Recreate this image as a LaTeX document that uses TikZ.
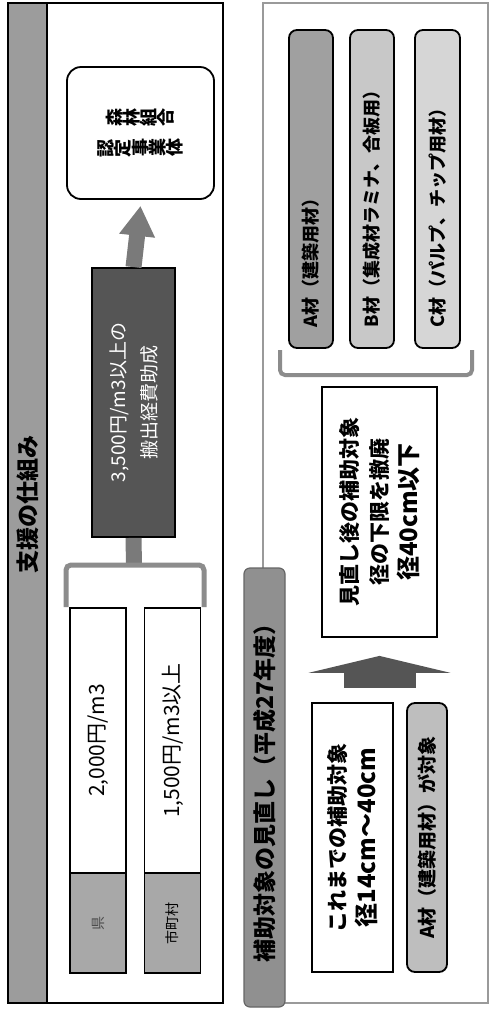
\documentclass[tikz,border=0pt]{standalone}
\usepackage{fontspec}
\setmainfont{Noto Sans CJK JP}
\usepackage{graphicx}
\usetikzlibrary{arrows.meta,calc}
\definecolor{bargray}{HTML}{9C9C9C}
\definecolor{darkbox}{HTML}{555555}
\definecolor{arrowgray}{HTML}{7A7A7A}
\definecolor{brgray}{HTML}{8C8C8C}
\definecolor{labgray}{HTML}{A8A8A8}
\definecolor{tabgray}{HTML}{909090}
\definecolor{agray}{HTML}{A0A0A0}
\definecolor{bgray}{HTML}{C8C8C8}
\definecolor{cgray}{HTML}{D6D6D6}
\definecolor{targray}{HTML}{BEBEBE}
\definecolor{panelgray}{HTML}{9A9A9A}
\newcommand\rchar[1]{\rotatebox[origin=c]{90}{#1}}
\begin{document}
\begin{tikzpicture}[x=1pt,y=-1pt,
  vbox/.style={rotate=90, draw=black, line width=1.8pt, inner sep=0pt, align=center},
  matbar/.style={vbox, rounded corners=8pt, minimum width=318pt, minimum height=44pt,
    text width=276pt, align=left, inner xsep=21pt, font=\fontsize{18}{20}\selectfont\bfseries},
  labbox/.style={vbox, fill=labgray, minimum width=100pt, minimum height=56pt},
  valbox/.style={vbox, minimum width=265pt, minimum height=56pt, font=\fontsize{21}{24}\selectfont}]
\fill[white] (0,0) rectangle (498,1010);
\useasboundingbox (0,0) rectangle (498,1010);

% ---- left panel
\fill[bargray] (8,3) rectangle (47,1003);
\draw[line width=2pt] (8,3) rectangle (223,1003);
\draw[line width=1.6pt] (47,3) -- (47,1003);
\node[rotate=90, font=\fontsize{23}{26}\selectfont\bfseries] (title1) at (28,504) {支援の仕組み};

\node[draw, line width=1.8pt, rounded corners=14pt, minimum width=147pt, minimum height=132pt,
  inner sep=0pt, align=center, font=\fontsize{18}{30}\selectfont\bfseries] (nintei) at (140.5,133)
  {\rchar{森}\rchar{林}\rchar{組}\rchar{合}\\\rchar{認}\rchar{定}\rchar{事}\rchar{業}\rchar{体}};

\node[vbox, fill=darkbox, text=white, minimum width=269pt, minimum height=83pt,
  font=\fontsize{19}{31}\selectfont] (josei) at (133.5,402.5) {3,500円/m3以上の\\搬出経費助成};

\coordinate (brtop) at (134,565);
\draw[line width=16pt, arrowgray] (brtop) -- (josei.west);
\draw[line width=16pt, arrowgray, -{Triangle[width=34pt,length=30pt]}] (josei.east) -- ($(nintei.south)+(0,6)$);
\draw[line width=5pt, brgray, rounded corners=5pt] (66,607) -- (66,565) -- (204,565) -- (204,607);

\node[valbox] (ken) at (98,740.5) {2,000円/m3};
\node[labbox, font=\fontsize{14}{16}\selectfont, text=black!70] (kenlab) at (98,923) {県};
\node[valbox] (shi) at (172.5,740.5) {1,500円/m3以上};
\node[labbox, font=\fontsize{14}{16}\selectfont] (shilab) at (172.5,923) {市町村};

% ---- right panel
\draw[line width=1.3pt, panelgray] (263,3) rectangle (488,1003);
\node[rotate=90, draw=black!60, line width=1.2pt, fill=tabgray, rounded corners=6pt,
  minimum width=439pt, minimum height=41pt, inner sep=0pt,
  font=\fontsize{23}{26}\selectfont\bfseries] (tab2) at (264.5,787.5) {補助対象の見直し（平成27年度）};

\node[matbar, fill=agray] (amat) at (311,189) {A材（建築用材）};
\node[matbar, fill=bgray] (bmat) at (372,189) {B材（集成材ラミナ、合板用）};
\node[matbar, fill=cgray, minimum height=45pt] (cmat) at (437.5,189) {C材（パルプ、チップ用材）};
\draw[line width=4pt, brgray, rounded corners=5pt] (280,350) -- (280,375) -- (472,375) -- (472,350);

\node[vbox, fill=white, minimum width=250pt, minimum height=115pt,
  font=\fontsize{21}{30}\selectfont\bfseries] (mina) at (379.5,512)
  {見直し後の補助対象\\径の下限を撤廃\\{\fontsize{24}{30}\selectfont 径40cm以下}};

\node[vbox, minimum width=269pt, minimum height=81pt,
  font=\fontsize{21}{30}\selectfont\bfseries] (kore) at (352.5,837.5)
  {これまでの補助対象\\{\fontsize{24}{30}\selectfont 径14cm～40cm}};

\node[vbox, rounded corners=8pt, fill=targray, minimum width=269pt, minimum height=40pt,
  font=\fontsize{19}{20}\selectfont\bfseries] (ataisho) at (427,837.5) {A材（建築用材）が対象};

\coordinate (abase) at ($(mina.west)+(0,50)$);
\draw[line width=72pt, darkbox, -{Triangle[width=142pt,length=17pt]}] (abase) -- ($(mina.west)+(0,18)$);
\end{tikzpicture}
\end{document}
